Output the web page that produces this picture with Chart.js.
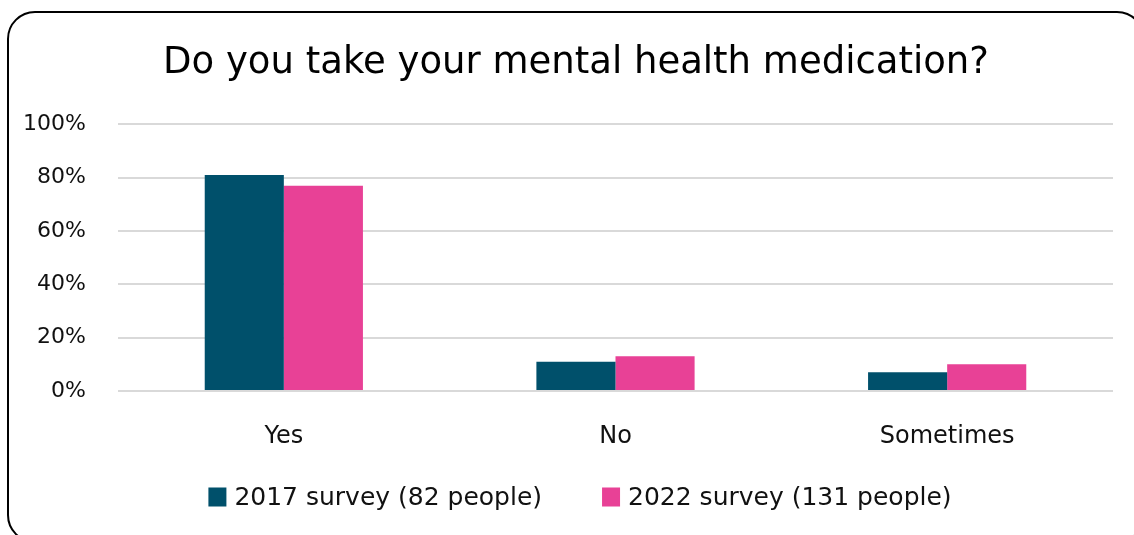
<!DOCTYPE html>
<html>
<head>
<meta charset="utf-8">
<title>Mental health medication survey</title>
<script src="https://cdn.jsdelivr.net/npm/chart.js@4.4.1/dist/chart.umd.min.js"></script>
<style>
    html, body { margin: 0; padding: 0; background: #fff; overflow: hidden; }
    body { width: 1134px; height: 535px; position: relative; }
    .wrap { position: absolute; left: 0; top: 0; width: 1152px; height: 535px; }
</style>
</head>
<body>
<div class="wrap"><canvas id="medChart"></canvas></div>
<script>
    const categories = ['Yes', 'No', 'Sometimes'];
    const survey2017 = [81, 11, 7];
    const survey2022 = [77, 13, 10];
    const seriesLabels = ['2017 survey (82 people)', '2022 survey (131 people)'];
    const yMax = 100;
    const yStep = 20;

    const FONT = '"DejaVu Sans", sans-serif';
    Chart.defaults.font.family = FONT;
    Chart.defaults.color = '#111';

    // rounded outline around the whole chart
    const chartFrame = {
        id: 'chartFrame',
        beforeDraw(chart) {
            const c = chart.ctx;
            c.save();
            c.strokeStyle = '#000';
            c.lineWidth = 2;
            c.beginPath();
            c.roundRect(8, 12, 1136, 530, 27);
            c.stroke();
            c.restore();
        }
    };

    // legend drawn by hand so the item spacing can be set freely
    const bottomLegend = {
        id: 'bottomLegend',
        afterDraw(chart) {
            const c = chart.ctx;
            const box = { w: 18, h: 19 };
            const gapText = 8, gapItem = 60, midY = 497;
            c.save();
            c.font = '25px ' + FONT;
            const items = chart.data.datasets.map(ds => ({
                color: ds.backgroundColor, text: ds.label, tw: c.measureText(ds.label).width
            }));
            const total = items.reduce((s, it) => s + box.w + gapText + it.tw, 0) + gapItem * (items.length - 1);
            let x = 580 - total / 2;
            c.textBaseline = 'middle';
            items.forEach(it => {
                c.fillStyle = it.color;
                c.fillRect(x, midY - box.h / 2, box.w, box.h);
                x += box.w + gapText;
                c.fillStyle = '#111';
                c.fillText(it.text, x, midY + 1);
                x += it.tw + gapItem;
            });
            c.restore();
        }
    };

    const ctx = document.getElementById('medChart').getContext('2d');
    new Chart(ctx, {
        type: 'bar',
        data: {
            labels: categories,
            datasets: [
                { label: seriesLabels[0], data: survey2017, backgroundColor: '#00506b' },
                { label: seriesLabels[1], data: survey2022, backgroundColor: '#e84196' }
            ]
        },
        options: {
            responsive: true,
            maintainAspectRatio: false,
            animation: false,
            layout: { padding: 0 },
            datasets: { bar: { categoryPercentage: 0.477, barPercentage: 1.0 } },
            plugins: {
                title: {
                    display: true,
                    text: 'Do you take your mental health medication?',
                    color: '#000',
                    font: { size: 37, weight: 'normal' },
                    padding: { top: 41, bottom: 39 }
                },
                legend: { display: false },
                tooltip: { enabled: false }
            },
            scales: {
                x: {
                    grid: { display: false },
                    border: { display: false },
                    ticks: { font: { size: 24 }, color: '#111', padding: 23 },
                    afterFit: s => { s.height = 144; }
                },
                y: {
                    min: 0,
                    max: yMax,
                    grid: { color: '#d9d9d9', lineWidth: 2, drawTicks: false },
                    border: { display: false },
                    ticks: {
                        stepSize: yStep,
                        font: { size: 22 },
                        color: '#111',
                        padding: 32,
                        callback: v => v + '%'
                    },
                    afterFit: s => { s.width = 118; }
                },
                // empty right-hand strip keeps the plot clear of the frame
                yRight: {
                    position: 'right',
                    display: true,
                    grid: { display: false },
                    border: { display: false },
                    ticks: { display: false },
                    afterFit: s => { s.width = 39; }
                }
            }
        },
        plugins: [chartFrame, bottomLegend]
    });
</script>
</body>
</html>
